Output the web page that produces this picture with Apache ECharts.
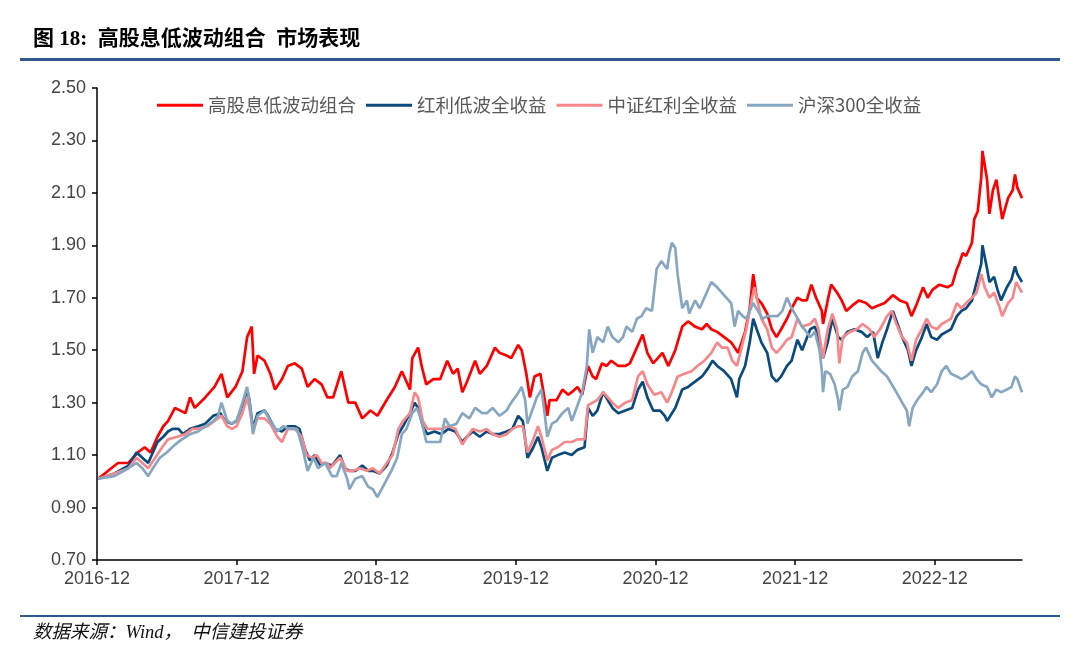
<!DOCTYPE html>
<html>
<head>
<meta charset="utf-8">
<script src="https://cdn.jsdelivr.net/npm/echarts@6/dist/echarts.min.js"></script>
<style>
html,body{margin:0;padding:0;background:#fff;}
#chart{width:1080px;height:664px;}
</style>
</head>
<body>
<div id="chart"></div>
<script>
// time is expressed in months elapsed since 2016-12
const seriesNames = ['高股息低波动组合', '红利低波全收益', '中证红利全收益', '沪深300全收益'];
const seriesColors = ['#ff0000', '#0b4a7c', '#f6888b', '#87a7c1'];
const xTickMonths = [0, 12, 24, 36, 48, 60, 72];
const yTicks = [0.7, 0.9, 1.1, 1.3, 1.5, 1.7, 1.9, 2.1, 2.3, 2.5];

const redMonths = [0.1,1.8,2.7,3.5,4.1,4.6,5.2,5.7,6.1,6.7,7.6,8.0,8.4,9.3,10.1,10.7,11.2,11.9,12.5,12.9,13.3,13.5,13.8,14.4,14.9,15.3,15.9,16.4,17.0,17.6,18.1,18.7,19.3,19.8,20.3,21.0,21.3,21.6,22.2,22.8,23.5,24.1,24.9,25.6,26.2,26.9,27.1,27.6,27.9,28.3,28.9,29.5,30.1,30.6,31.0,31.4,31.8,32.5,32.9,33.5,34.2,34.6,35.2,35.6,36.2,36.5,36.9,37.2,37.6,38.1,38.3,38.7,38.9,39.5,40.0,40.5,40.8,41.3,41.7,42.2,42.6,42.9,43.4,43.8,44.2,44.8,45.4,45.8,46.4,46.9,47.3,47.8,48.2,48.6,49.1,49.7,50.3,50.8,51.4,52.0,52.4,52.8,53.3,53.9,54.5,54.8,55.1,55.7,56.1,56.4,56.7,57.1,57.6,58.0,58.4,58.8,59.3,59.7,60.2,60.6,61.0,61.4,61.8,62.3,62.4,62.8,63.1,63.6,64.0,64.4,64.9,65.5,66.1,66.6,67.1,67.7,68.4,69.0,69.6,70.0,70.4,71.0,71.4,71.8,72.4,73.1,73.5,73.9,74.1,74.4,74.7,75.2,75.4,75.7,76.0,76.1,76.5,76.7,77.0,77.3,77.6,77.8,78.3,78.7,78.9,79.1,79.5];
const redValues = [1.01,1.07,1.07,1.11,1.13,1.11,1.17,1.21,1.23,1.28,1.26,1.32,1.28,1.32,1.36,1.41,1.32,1.36,1.42,1.55,1.59,1.41,1.48,1.46,1.41,1.35,1.39,1.44,1.45,1.43,1.36,1.39,1.37,1.32,1.32,1.42,1.36,1.30,1.30,1.24,1.27,1.25,1.31,1.36,1.42,1.35,1.47,1.51,1.44,1.37,1.39,1.39,1.46,1.41,1.43,1.34,1.38,1.46,1.41,1.44,1.51,1.49,1.48,1.47,1.52,1.50,1.41,1.32,1.40,1.41,1.36,1.25,1.31,1.31,1.35,1.33,1.34,1.36,1.33,1.44,1.40,1.39,1.45,1.44,1.46,1.44,1.44,1.45,1.51,1.56,1.49,1.45,1.47,1.49,1.44,1.50,1.59,1.61,1.59,1.58,1.60,1.58,1.57,1.55,1.53,1.51,1.49,1.57,1.66,1.79,1.70,1.68,1.64,1.58,1.55,1.58,1.62,1.66,1.70,1.69,1.69,1.75,1.70,1.65,1.60,1.69,1.75,1.72,1.69,1.65,1.67,1.69,1.68,1.66,1.67,1.68,1.71,1.69,1.68,1.63,1.67,1.74,1.70,1.73,1.75,1.74,1.75,1.81,1.83,1.87,1.86,1.91,2.00,2.03,2.16,2.26,2.15,2.02,2.11,2.15,2.06,2.00,2.08,2.11,2.17,2.12,2.08];

const navyMonths = [0.1,1.5,2.7,3.4,3.9,4.4,4.8,5.2,5.7,6.1,6.5,7.0,7.4,8.0,8.7,9.3,10.0,10.6,11.0,11.6,12.0,12.5,12.9,13.1,13.4,13.8,14.4,14.7,15.3,15.9,16.4,17.0,17.4,17.9,18.3,18.7,19.2,19.6,20.2,20.9,21.3,21.7,22.2,22.8,23.3,23.7,24.3,24.9,25.4,25.9,26.3,26.9,27.3,27.6,28.0,28.4,29.0,29.6,30.2,30.8,31.4,31.8,32.3,32.9,33.5,34.0,34.6,35.2,35.7,36.2,36.6,37.0,37.5,37.9,38.2,38.7,39.1,39.6,40.2,40.8,41.3,41.9,42.2,42.6,43.0,43.5,43.9,44.3,44.8,45.4,46.0,46.5,46.9,47.3,47.8,48.4,48.8,49.0,49.7,50.3,50.8,51.4,52.0,52.5,52.9,53.3,53.9,54.5,55.0,55.2,55.7,56.1,56.4,56.7,57.1,57.6,58.0,58.4,58.8,59.3,59.7,60.2,60.6,61.3,61.7,62.0,62.4,62.8,63.2,63.7,64.0,64.5,65.1,65.7,66.2,66.7,67.1,67.5,67.9,68.4,68.8,69.2,69.7,70.0,70.4,70.9,71.3,71.7,72.2,72.6,73.0,73.4,73.9,74.3,74.7,75.2,75.6,76.0,76.1,76.5,76.7,77.1,77.4,77.7,78.2,78.6,78.9,79.1,79.5];
const navyValues = [1.01,1.03,1.06,1.11,1.09,1.07,1.11,1.15,1.17,1.19,1.20,1.20,1.18,1.20,1.21,1.22,1.25,1.26,1.23,1.22,1.23,1.29,1.35,1.31,1.20,1.26,1.27,1.25,1.20,1.19,1.21,1.21,1.20,1.12,1.08,1.10,1.06,1.07,1.06,1.10,1.05,1.04,1.04,1.06,1.04,1.04,1.03,1.06,1.11,1.18,1.21,1.26,1.30,1.28,1.21,1.18,1.19,1.18,1.20,1.19,1.15,1.17,1.19,1.17,1.19,1.18,1.18,1.19,1.20,1.25,1.23,1.09,1.13,1.17,1.13,1.04,1.09,1.10,1.11,1.10,1.12,1.13,1.28,1.25,1.27,1.34,1.31,1.28,1.26,1.27,1.28,1.35,1.38,1.32,1.27,1.27,1.25,1.23,1.28,1.35,1.36,1.38,1.40,1.43,1.46,1.44,1.42,1.39,1.32,1.39,1.44,1.53,1.62,1.58,1.53,1.49,1.40,1.38,1.40,1.44,1.46,1.54,1.50,1.58,1.59,1.55,1.47,1.53,1.62,1.55,1.54,1.57,1.58,1.57,1.55,1.57,1.47,1.53,1.58,1.65,1.60,1.55,1.50,1.44,1.50,1.55,1.60,1.55,1.54,1.56,1.57,1.58,1.63,1.65,1.66,1.69,1.76,1.83,1.90,1.81,1.76,1.78,1.73,1.69,1.74,1.77,1.82,1.79,1.76];

const pinkMonths = [0.1,1.5,2.7,3.4,4.4,5.0,5.6,6.1,6.9,7.6,8.2,8.7,9.5,10.1,10.7,11.2,11.6,12.0,12.5,12.9,13.1,13.4,13.8,14.4,14.9,15.5,15.9,16.4,17.0,17.6,18.0,18.5,18.9,19.3,19.8,20.0,20.9,21.5,22.0,22.6,23.2,23.7,24.3,24.9,25.4,25.9,26.3,26.9,27.3,27.6,28.0,28.4,29.0,29.6,30.2,30.8,31.4,31.8,32.3,32.9,33.5,34.0,34.6,35.2,35.7,36.2,36.6,37.0,37.5,37.9,38.2,38.7,39.1,39.6,40.2,40.8,41.3,41.9,42.2,42.6,43.0,43.5,43.9,44.3,44.8,45.4,46.0,46.5,46.9,47.3,47.9,48.5,49.0,49.4,49.9,50.5,51.1,51.6,52.2,52.8,53.3,53.7,54.2,54.6,55.0,55.4,55.8,56.3,56.5,56.8,57.1,57.6,58.0,58.4,58.8,59.3,59.7,60.2,60.6,61.3,61.7,62.0,62.4,62.8,63.2,63.6,63.8,64.1,64.7,65.3,65.8,66.4,66.8,67.3,67.9,68.3,68.7,69.2,69.6,70.0,70.4,70.9,71.3,71.7,72.2,72.6,73.0,73.4,73.9,74.3,74.7,75.2,75.6,76.0,76.3,76.7,77.1,77.6,77.8,78.3,78.7,79.0,79.5];
const pinkValues = [1.01,1.03,1.05,1.09,1.05,1.09,1.13,1.16,1.17,1.18,1.20,1.20,1.21,1.23,1.25,1.21,1.20,1.21,1.26,1.32,1.28,1.20,1.24,1.24,1.22,1.17,1.15,1.20,1.20,1.17,1.10,1.09,1.10,1.07,1.07,1.05,1.09,1.04,1.04,1.05,1.04,1.05,1.03,1.07,1.10,1.20,1.23,1.26,1.34,1.32,1.23,1.20,1.20,1.20,1.21,1.20,1.14,1.17,1.20,1.19,1.20,1.18,1.17,1.18,1.20,1.21,1.21,1.11,1.16,1.21,1.17,1.08,1.12,1.13,1.15,1.15,1.16,1.16,1.29,1.30,1.31,1.34,1.32,1.30,1.28,1.30,1.31,1.40,1.42,1.37,1.33,1.34,1.30,1.34,1.40,1.41,1.42,1.44,1.46,1.49,1.53,1.51,1.51,1.46,1.44,1.51,1.58,1.70,1.74,1.68,1.62,1.58,1.51,1.49,1.51,1.54,1.55,1.62,1.59,1.60,1.62,1.58,1.47,1.58,1.64,1.58,1.45,1.55,1.57,1.58,1.60,1.58,1.55,1.58,1.63,1.65,1.60,1.55,1.53,1.46,1.54,1.58,1.62,1.59,1.58,1.60,1.61,1.62,1.68,1.66,1.68,1.70,1.72,1.79,1.74,1.70,1.72,1.66,1.63,1.68,1.70,1.76,1.72];

const blueMonths = [0.1,1.5,2.7,3.4,3.9,4.4,4.8,5.4,6.0,6.7,7.3,8.0,8.7,9.3,10.0,10.4,10.7,11.2,11.6,12.0,12.5,12.9,13.1,13.4,13.8,14.4,14.9,15.5,16.0,16.6,17.2,17.7,18.1,18.6,19.0,19.6,20.2,20.6,21.0,21.5,21.7,22.2,22.8,23.3,23.7,24.1,24.7,25.3,25.8,26.2,26.6,27.1,27.5,27.9,28.3,28.9,29.5,29.9,30.3,30.9,31.4,32.0,32.5,33.1,33.5,34.0,34.6,35.2,35.6,36.1,36.5,36.8,37.0,37.4,37.8,38.2,38.5,38.7,39.1,39.5,40.0,40.5,40.8,41.3,41.7,42.1,42.3,42.6,43.0,43.5,43.9,44.3,44.8,45.2,45.5,46.0,46.4,46.8,47.2,47.7,48.1,48.5,49.0,49.2,49.4,49.7,49.9,50.3,50.7,50.9,51.4,51.8,52.2,52.8,53.3,53.7,54.1,54.5,54.8,55.1,55.5,55.8,56.1,56.4,56.8,57.2,57.6,58.1,58.5,58.9,59.3,59.7,60.1,60.6,60.8,61.3,61.7,62.1,62.3,62.4,62.6,63.0,63.4,63.7,63.8,64.1,64.5,64.9,65.4,65.8,66.1,66.6,67.0,67.4,67.9,68.3,68.7,69.2,69.6,69.8,70.1,70.5,71.0,71.3,71.7,72.2,72.6,73.0,73.4,73.9,74.3,74.7,75.2,75.6,76.0,76.5,76.9,77.3,77.7,78.2,78.6,78.9,79.1,79.5];
const blueValues = [1.01,1.02,1.05,1.07,1.05,1.02,1.05,1.09,1.11,1.14,1.16,1.18,1.19,1.21,1.23,1.25,1.30,1.23,1.22,1.23,1.30,1.36,1.31,1.18,1.25,1.27,1.23,1.19,1.21,1.20,1.20,1.12,1.04,1.09,1.05,1.07,1.02,1.02,1.07,1.01,0.97,1.01,1.02,0.98,0.97,0.94,0.99,1.04,1.09,1.18,1.20,1.26,1.28,1.23,1.15,1.15,1.15,1.24,1.21,1.22,1.26,1.24,1.28,1.26,1.26,1.28,1.25,1.27,1.30,1.33,1.36,1.31,1.22,1.27,1.32,1.35,1.25,1.17,1.22,1.23,1.26,1.28,1.23,1.29,1.34,1.44,1.58,1.49,1.55,1.53,1.59,1.55,1.53,1.55,1.59,1.57,1.62,1.63,1.66,1.65,1.81,1.84,1.81,1.87,1.91,1.89,1.79,1.66,1.69,1.64,1.69,1.66,1.70,1.76,1.74,1.72,1.70,1.68,1.59,1.65,1.63,1.62,1.65,1.68,1.65,1.62,1.63,1.63,1.63,1.65,1.70,1.66,1.63,1.59,1.58,1.55,1.57,1.50,1.42,1.34,1.42,1.41,1.37,1.31,1.27,1.35,1.36,1.40,1.42,1.49,1.51,1.46,1.44,1.42,1.40,1.37,1.34,1.30,1.27,1.21,1.28,1.31,1.34,1.36,1.34,1.37,1.42,1.44,1.41,1.40,1.39,1.40,1.42,1.39,1.37,1.36,1.32,1.35,1.34,1.35,1.36,1.40,1.39,1.34];

function zip(ms, vs) {
  const n = Math.min(ms.length, vs.length);
  const out = [];
  for (let i = 0; i < n; i++) out.push([ms[i], vs[i]]);
  return out;
}
const allMonths = [redMonths, navyMonths, pinkMonths, blueMonths];
const allValues = [redValues, navyValues, pinkValues, blueValues];

const chart = echarts.init(document.getElementById('chart'), null, {renderer: 'canvas'});
const axisFont = '"Liberation Sans", Arial, sans-serif';
const cjkFont = '"Noto Sans CJK SC", sans-serif';

const option = {
  animation: false,
  backgroundColor: '#ffffff',
  grid: {left: 97, right: 58, top: 88, bottom: 104, containLabel: false},
  legend: {
    data: seriesNames.map(n => ({name: n, icon: 'rect'})),
    left: 152,
    top: 91,
    itemWidth: 46,
    itemHeight: 3,
    itemGap: 10,
    textStyle: {fontFamily: cjkFont, fontSize: 18.5, color: '#595959'}
  },
  xAxis: {
    type: 'value',
    min: 0,
    max: 79.5,
    interval: 12,
    axisLine: {show: true, lineStyle: {color: '#000', width: 1.5}},
    axisTick: {show: true, length: 5, lineStyle: {color: '#000', width: 1.5}, customValues: xTickMonths},
    axisLabel: {
      customValues: xTickMonths,
      margin: 10,
      fontFamily: axisFont, fontSize: 18, color: '#444',
      formatter: v => (2016 + Math.round(v / 12)) + '-12'
    },
    splitLine: {show: false}
  },
  yAxis: {
    type: 'value',
    min: 0.7,
    max: 2.5,
    axisLine: {show: true, lineStyle: {color: '#000', width: 1.5}},
    axisTick: {show: true, length: 5, lineStyle: {color: '#000', width: 1.5}, customValues: yTicks},
    axisLabel: {
      customValues: yTicks,
      margin: 11,
      fontFamily: axisFont, fontSize: 18, color: '#444',
      formatter: v => Number(v).toFixed(2)
    },
    splitLine: {show: false}
  },
  series: seriesNames.map((name, i) => ({
    name: name,
    type: 'line',
    data: zip(allMonths[i], allValues[i]),
    symbol: 'none',
    showSymbol: false,
    color: seriesColors[i],
    itemStyle: {color: seriesColors[i]},
    lineStyle: {color: seriesColors[i], width: 2.7},
    z: 2 + i
  })),
  graphic: [
    {type: 'text', left: 33, top: 29, style: {text: '图 18:  高股息低波动组合  市场表现', font: 'bold 21px "Liberation Serif", "Noto Sans CJK SC", serif', fill: '#000'}},
    {type: 'rect', shape: {x: 20, y: 58, width: 1040, height: 3}, style: {fill: '#2e5b8f'}},
    {type: 'rect', shape: {x: 20, y: 615, width: 1040, height: 2}, style: {fill: '#2e5b8f'}},
    {type: 'text', left: 33, top: 624, style: {text: '数据来源：Wind，  中信建投证券', font: 'italic 18.5px "Liberation Serif", "Noto Sans CJK SC", serif', fill: '#111'}}
  ]
};
chart.setOption(option);
</script>
</body>
</html>
